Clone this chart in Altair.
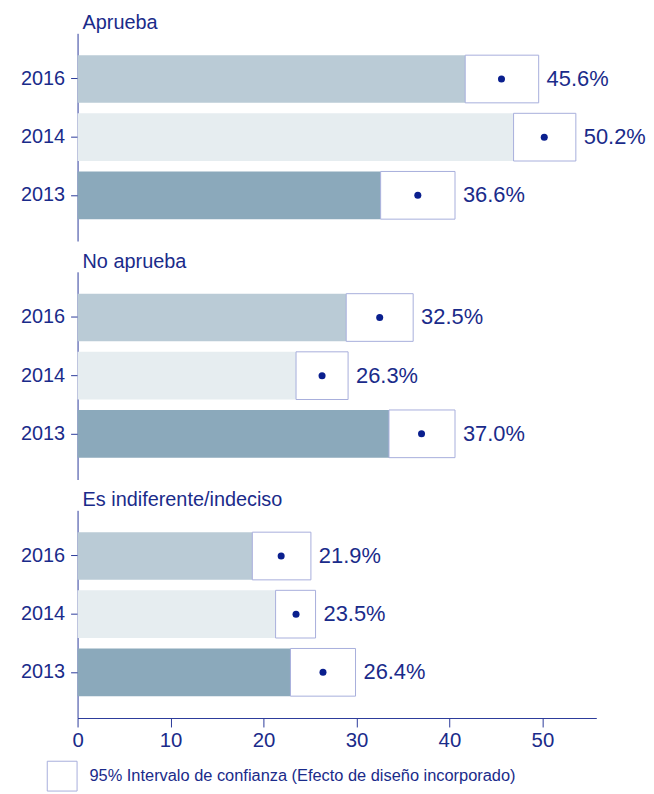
import altair as alt
import pandas as pd

# ---- data ----
categories = ["Aprueba", "No aprueba", "Es indiferente/indeciso"]
years = ["2016", "2014", "2013"]
estimate = {
    "Aprueba": [45.6, 50.2, 36.6],
    "No aprueba": [32.5, 26.3, 37.0],
    "Es indiferente/indeciso": [21.9, 23.5, 26.4],
}
ci_low = {
    "Aprueba": [41.7, 46.9, 32.6],
    "No aprueba": [28.9, 23.5, 33.5],
    "Es indiferente/indeciso": [18.8, 21.3, 22.9],
}
ci_high = {
    "Aprueba": [49.6, 53.6, 40.6],
    "No aprueba": [36.1, 29.1, 40.6],
    "Es indiferente/indeciso": [25.1, 25.6, 29.9],
}
x_ticks = [0, 10, 20, 30, 40, 50]
legend_label = "95% Intervalo de confianza (Efecto de diseño incorporado)"

FONT = "Liberation Sans, Arial, sans-serif"
NAVY = "#1A2B8A"
AXIS = "#2B3A9A"
DOT = "#0A1F8E"
BOX = "#A7AEDC"
year_colors = ["#BACBD6", "#E6EDF0", "#8BA9BB"]

rows = []
for c in categories:
    for i, y in enumerate(years):
        rows.append({
            "cat": c, "year": y,
            "est": estimate[c][i], "lo": ci_low[c][i], "hi": ci_high[c][i],
            "label": f"{estimate[c][i]:.1f}%",
            "ci": legend_label,
        })
df = pd.DataFrame(rows)

xscale = alt.Scale(domain=[0, 55.8], nice=False, zero=True)
yscale = alt.Scale(domain=years, paddingInner=0.18, paddingOuter=0.376)


def panel(cat, last):
    d = df[df["cat"] == cat]
    if last:
        xaxis = alt.Axis(values=x_ticks, title=None, grid=False, tickSize=9,
                         labelFontSize=20.5, labelPadding=4, labelFont=FONT,
                         labelColor=NAVY, domainColor=AXIS, tickColor=AXIS,
                         labelFlush=False)
    else:
        xaxis = None
    yaxis = alt.Axis(title=None, tickSize=7, labelPadding=6, labelFontSize=20,
                     labelFont=FONT, labelColor=NAVY, domainColor=AXIS,
                     tickColor=AXIS, minExtent=70, maxExtent=70)
    base = alt.Chart(d)
    bars = base.mark_bar(cornerRadius=0).encode(
        x=alt.X("zero:Q", scale=xscale, axis=xaxis),
        x2="lo:Q",
        y=alt.Y("year:N", scale=yscale, sort=years, axis=yaxis),
        color=alt.Color("year:N", scale=alt.Scale(domain=years, range=year_colors), legend=None),
    ).transform_calculate(zero="0")
    boxes = base.mark_bar(fill="white", strokeWidth=1).encode(
        x=alt.X("lo:Q", scale=xscale),
        x2="hi:Q",
        y=alt.Y("year:N", scale=yscale, sort=years),
        stroke=alt.Stroke(
            "ci:N",
            scale=alt.Scale(range=[BOX]),
            legend=alt.Legend(
                title=None, orient="none", legendX=-31, legendY=732,
                symbolType="square", symbolSize=900, symbolFillColor="white",
                symbolStrokeWidth=1, labelFontSize=16.5, labelFont=FONT,
                labelColor=NAVY, labelOffset=12, padding=0, labelLimit=600,
            ),
        ),
    )
    dots = base.mark_circle(size=50, opacity=1, color=DOT).encode(
        x=alt.X("est:Q", scale=xscale),
        y=alt.Y("year:N", scale=yscale, sort=years),
    )
    labels = base.mark_text(align="left", baseline="middle", dx=8, fontSize=22,
                            font=FONT, color=NAVY).encode(
        x=alt.X("hi:Q", scale=xscale),
        y=alt.Y("year:N", scale=yscale, sort=years),
        text="label:N",
    )
    head = alt.Chart(pd.DataFrame({"cat": [cat]})).mark_text(
        align="left", baseline="alphabetic", fontSize=20, font=FONT, color=NAVY
    ).encode(x=alt.value(5), y=alt.value(-4), text="cat:N")
    return alt.layer(bars, boxes, dots, labels, head).properties(width=522, height=209)


chart = alt.vconcat(
    panel(categories[0], False),
    panel(categories[1], False),
    panel(categories[2], True),
    spacing=11,
).properties(
    padding={"left": 0, "top": 3, "right": 0, "bottom": 0},
).configure_view(stroke=None).configure_axis(domainWidth=1, tickWidth=1)

chart.save("out.html", embed_options={"renderer": "svg", "actions": False})
